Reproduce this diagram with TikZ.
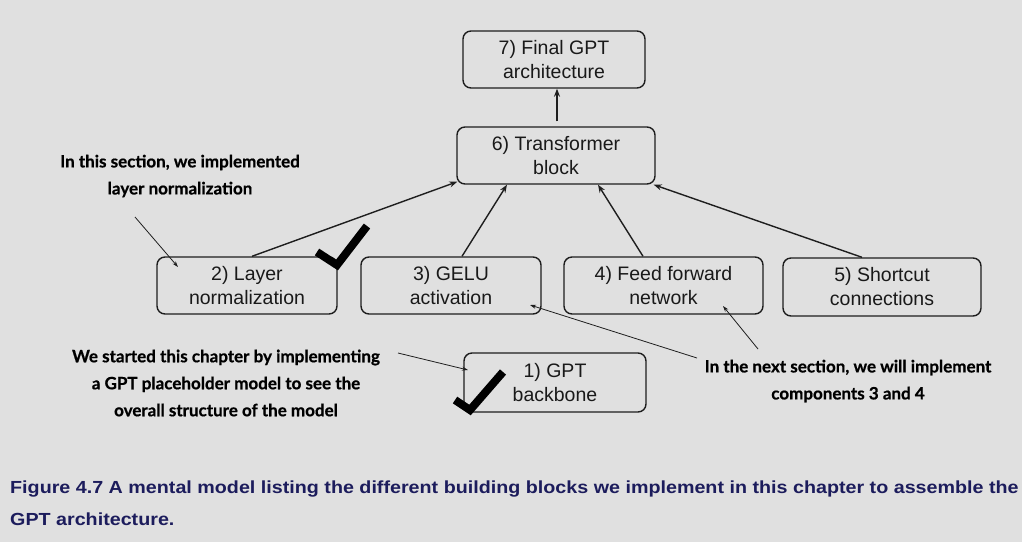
\documentclass[tikz,border=0pt]{standalone}
\usepackage{fontspec}
\setmainfont{Liberation Sans}
\newfontfamily\annfont{Lato}[BoldFont={Lato Bold},BoldFeatures={FakeBold=0.7}]
\newfontfamily\capfont{Liberation Sans}[FakeStretch=1.126]
\usetikzlibrary{arrows.meta,calc}
\definecolor{bgc}{RGB}{224,224,224}
\definecolor{edgec}{RGB}{30,30,30}
\definecolor{capc}{RGB}{28,28,92}
\begin{document}
\begin{tikzpicture}[x=1pt,y=-1pt,
  blk/.style={draw=edgec,line width=1.4pt,rounded corners=8pt,align=center,
    font=\fontsize{19.5}{24}\selectfont,inner sep=0pt,text=black!90},
  flow/.style={-{Stealth[length=8pt,width=6pt]},line width=1.4pt,draw=edgec},
  note/.style={align=center,font=\annfont\bfseries\fontsize{17}{27}\selectfont},
  pointer/.style={-{Stealth[length=6pt,width=4pt]},line width=0.8pt,draw=edgec},
  tick/.style={line width=8pt,draw=black}]
\fill[bgc] (0,0) rectangle (1022,542);
\useasboundingbox (0,0) rectangle (1022,542);

\node[blk,minimum width=182pt,minimum height=57pt] (b7) at (554,59.5) {7) Final GPT\\architecture};
\node[blk,minimum width=198pt,minimum height=57pt] (b6) at (556,155.5) {6) Transformer\\block};
\node[blk,minimum width=180pt,minimum height=57pt] (b2) at (247,285.5) {2) Layer\\normalization};
\node[blk,minimum width=180pt,minimum height=57pt] (b3) at (451,285.5) {3) GELU\\activation};
\node[blk,minimum width=199pt,minimum height=57pt] (b4) at (663.5,285.5) {4) Feed forward\\network};
\node[blk,minimum width=198pt,minimum height=58pt] (b5) at (882,287) {5) Shortcut\\connections};
\node[blk,minimum width=182pt,minimum height=59pt] (b1) at (555,382.5) {1) GPT\\backbone};

\draw[flow] ($(b6.north)+(1,-5)$) coordinate (s67) -- (s67 |- b7.south);
\draw[flow] ($(b2.north)+(5,0)$) -- ($(b6.south west)+(1,-3)$);
\draw[flow] ($(b3.north)+(11,0)$) -- ($(b6.south)+(-49,0)$);
\draw[flow] ($(b4.north)+(-20.5,0)$) -- ($(b6.south)+(42,0)$);
\draw[flow] ($(b5.north)+(-20,0)$) -- ($(b6.south east)+(-2,0)$);

\node[note] (n1) at (180,176) {In this section, we implemented\\layer normalization};
\node[note] (n2) at (226,383) {We started this chapter by implementing\\a GPT placeholder model to see the\\overall structure of the model};
\node[note] (n3) at (848,381) {In the next section, we will implement\\components 3 and 4};

\coordinate (p1s) at (135,217);
\coordinate (p1e) at (178,267);
\coordinate (p2s) at (398,353);
\coordinate (p2e) at (468,370);
\coordinate (p3s) at (697,358);
\coordinate (p3e) at (530,305);
\coordinate (p4s) at (758,349);
\coordinate (p4e) at (723,306);
\draw[pointer] (p1s) -- (p1e);
\draw[pointer] (p2s) -- (p2e);
\draw[pointer] (p3s) -- (p3e);
\draw[pointer] (p4s) -- (p4e);

\draw[tick] (317,252) -- (337,265) -- (367,226);
\draw[tick] (455,400) -- (470,410) -- (503,372);

\node[anchor=base west,inner sep=0pt,text=capc,font=\capfont\bfseries\fontsize{17.5}{20}\selectfont] (cap1) at (10,493) {Figure 4.7 A mental model listing the different building blocks we implement in this chapter to assemble the};
\node[anchor=base west,inner sep=0pt,text=capc,font=\capfont\bfseries\fontsize{17.5}{20}\selectfont] (cap2) at (10,525) {GPT architecture.};
\end{tikzpicture}
\end{document}
